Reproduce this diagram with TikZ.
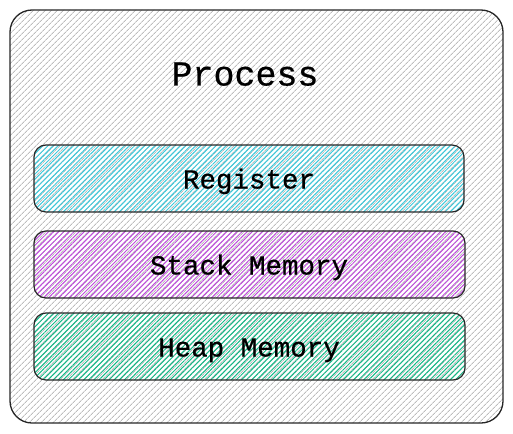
\documentclass[tikz,border=0pt]{standalone}
\usepackage{fontspec}
\setmonofont[FakeBold=0.6]{Liberation Mono}
\usetikzlibrary{patterns.meta}
\definecolor{hgrey}{HTML}{BDBDBD}
\definecolor{hcyan}{HTML}{3BC9DB}
\definecolor{hpurple}{HTML}{BE4BDB}
\definecolor{hteal}{HTML}{12B886}
\tikzset{
  outerbox/.style={draw=black!85, line width=1.3pt, rounded corners=22pt, fill=white,
    pattern={Lines[angle=45,distance=4pt,line width=0.9pt]}, pattern color=hgrey},
  layerbox/.style={draw=black!85, line width=1.2pt, rounded corners=12pt, fill=white,
    pattern={Lines[angle=45,distance=3.6pt,line width=1pt]}},
  lbl/.style={font=\ttfamily\fontsize{27.5}{32}\selectfont, text=black},
  ttl/.style={font=\ttfamily\fontsize{35}{40}\selectfont, text=black}
}
\begin{document}
\begin{tikzpicture}[x=1pt,y=-1pt]
\useasboundingbox (0,0) rectangle (513,433);
\path[outerbox] (10,10) rectangle (503,423);
\node[ttl, anchor=base] (title) at (245,85.5) {Process};
\path[layerbox, pattern color=hcyan] (34,145) rectangle (464,212);
\node[lbl, anchor=base] (reg) at (249,188.5) {Register};
\path[layerbox, pattern color=hpurple] (34,231) rectangle (465,298);
\node[lbl, anchor=base] (stack) at (249,274.5) {Stack Memory};
\path[layerbox, pattern color=hteal] (34,313) rectangle (465,380);
\node[lbl, anchor=base] (heap) at (249,356.5) {Heap Memory};
\end{tikzpicture}
\end{document}
